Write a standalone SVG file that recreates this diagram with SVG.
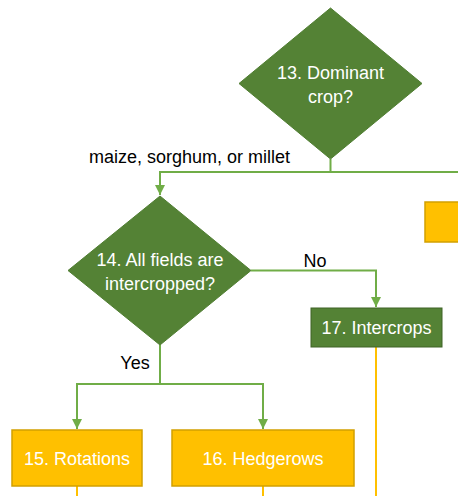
<svg xmlns="http://www.w3.org/2000/svg" width="458" height="496" viewBox="0 0 458 496">
<defs>
<style>
.dec{fill:#548235;stroke:#507e32;stroke-width:1}
.gbox{fill:#548235;stroke:#3e6327;stroke-width:1}
.obox{fill:#ffc000;stroke:#d2a000;stroke-width:1.5}
.wt{font-family:"Liberation Sans",Arial,sans-serif;font-size:18px;fill:#ffffff;text-anchor:middle}
.lbl{font-family:"Liberation Sans",Arial,sans-serif;font-size:18px;fill:#000000;text-anchor:middle}
.gl{fill:none;stroke:#70ad47;stroke-width:2}
.yl{fill:none;stroke:#ffc000;stroke-width:2}
</style>
<marker id="ah" viewBox="0 0 10 10" refX="10" refY="5" markerWidth="5" markerHeight="5" markerUnits="strokeWidth" orient="auto">
<path d="M0,0 L10,5 L0,10 Z" fill="#70ad47"/>
</marker>
</defs>
<g id="connectors">
<path class="gl" d="M330.5,159 V172 H458"/>
<path class="gl" d="M458,172 H160 V195" marker-end="url(#ah)"/>
<path class="gl" d="M251,270.5 H376 V307" marker-end="url(#ah)"/>
<path class="gl" d="M160,345 V384 H77 V429" marker-end="url(#ah)"/>
<path class="gl" d="M160,384 H263 V429" marker-end="url(#ah)"/>
<path class="yl" d="M77,486 V496"/>
<path class="yl" d="M263,486 V496"/>
<path class="yl" d="M376,347 V496"/>
<text class="lbl" x="189.5" y="163">maize, sorghum, or millet</text>
<text class="lbl" x="315" y="267">No</text>
<text class="lbl" x="135" y="369">Yes</text>
</g>
<g id="n13">
<polygon class="dec" points="330.5,8 422,83.5 330.5,159 239,83.5"/>
<text class="wt" x="330.5" y="79">13. Dominant</text>
<text class="wt" x="330.5" y="102.5">crop?</text>
</g>
<g id="n14">
<polygon class="dec" points="160,196 251,270.5 160,345 68,270.5"/>
<text class="wt" x="160" y="266">14. All fields are</text>
<text class="wt" x="160" y="289.5">intercropped?</text>
</g>
<g id="n17">
<rect class="gbox" x="311" y="308" width="131" height="39"/>
<text class="wt" x="376.5" y="333.5">17. Intercrops</text>
</g>
<g id="n15">
<rect class="obox" x="12" y="430" width="130" height="56"/>
<text class="wt" x="77" y="464.5">15. Rotations</text>
</g>
<g id="n16">
<rect class="obox" x="172" y="430" width="182" height="56"/>
<text class="wt" x="263" y="464.5">16. Hedgerows</text>
</g>
<g id="n18">
<rect class="obox" x="425" y="202" width="40" height="40"/>
</g>
</svg>
